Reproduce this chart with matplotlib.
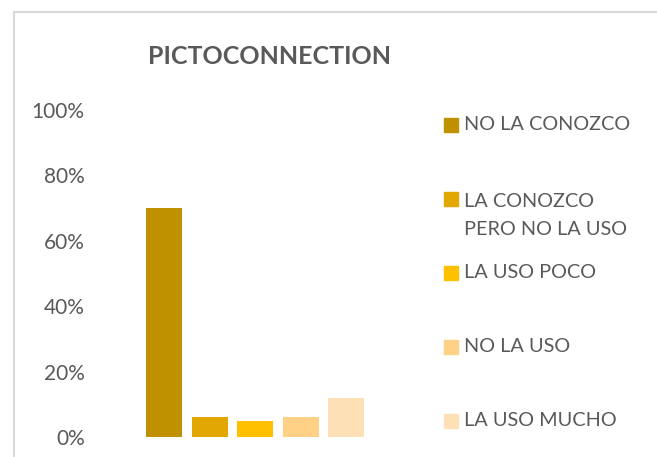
import matplotlib
matplotlib.use("Agg")
import matplotlib.pyplot as plt
from matplotlib.patches import Rectangle
from matplotlib.lines import Line2D
from matplotlib.ticker import PercentFormatter

title = "PICTOCONNECTION"
series = ["NO LA CONOZCO", "LA CONOZCO\nPERO NO LA USO", "LA USO POCO", "NO LA USO", "LA USO MUCHO"]
values = [70, 6, 5, 6, 12]
colors = ["#BF9000", "#E2A700", "#FFC000", "#FFD186", "#FEE0B7"]
yticks = [0, 20, 40, 60, 80, 100]

W, H = 657, 457
fig = plt.figure(figsize=(W / 100, H / 100), dpi=100)
plt.rcParams['font.family'] = ['Lato', 'DejaVu Sans']
txt = "#595959"

def fx(px):
    return px / W

def fy(py):
    return 1 - py / H

ax_left, ax_right, ax_top, ax_bot = 100, 410, 110, 437
ax = fig.add_axes([fx(ax_left), fy(ax_bot), (ax_right - ax_left) / W, (ax_bot - ax_top) / H])
step = 45.5
c0 = 164
xs = list(range(len(values)))
ax.bar(xs, values, width=36 / step, color=colors)
ax.set_xlim((ax_left - c0) / step, (ax_right - c0) / step)
ax.set_ylim(0, 100)
ax.set_yticks(yticks)
ax.yaxis.set_major_formatter(PercentFormatter(decimals=0))
ax.set_xticks([])
for s in ax.spines.values():
    s.set_visible(False)
ax.tick_params(axis='y', length=0, pad=11, labelsize=15, labelcolor=txt)

fig.text(fx(269), fy(56), title, ha='center', va='center', fontsize=18,
         fontweight='bold', color=txt)

# legend
ys = [125, 199, 273, 347, 421]
for lab, col, yy in zip(series, colors, ys):
    fig.patches.append(Rectangle((fx(444), fy(yy + 7)), 14 / W, 14 / H,
                                 transform=fig.transFigure, color=col))
    if '\n' in lab:
        fig.text(fx(464), fy(yy - 6), lab, ha='left', va='top',
                 fontsize=14.3, color=txt, linespacing=1.8)
    else:
        fig.text(fx(464), fy(yy), lab, ha='left', va='center',
                 fontsize=14.3, color=txt)

# frame
fig.add_artist(Line2D([fx(13.5), fx(13.5), fx(657)], [fy(457), fy(11.5), fy(11.5)],
                      transform=fig.transFigure, color="#D9D9D9", lw=1.5))

fig.savefig("out.png", dpi=100)
